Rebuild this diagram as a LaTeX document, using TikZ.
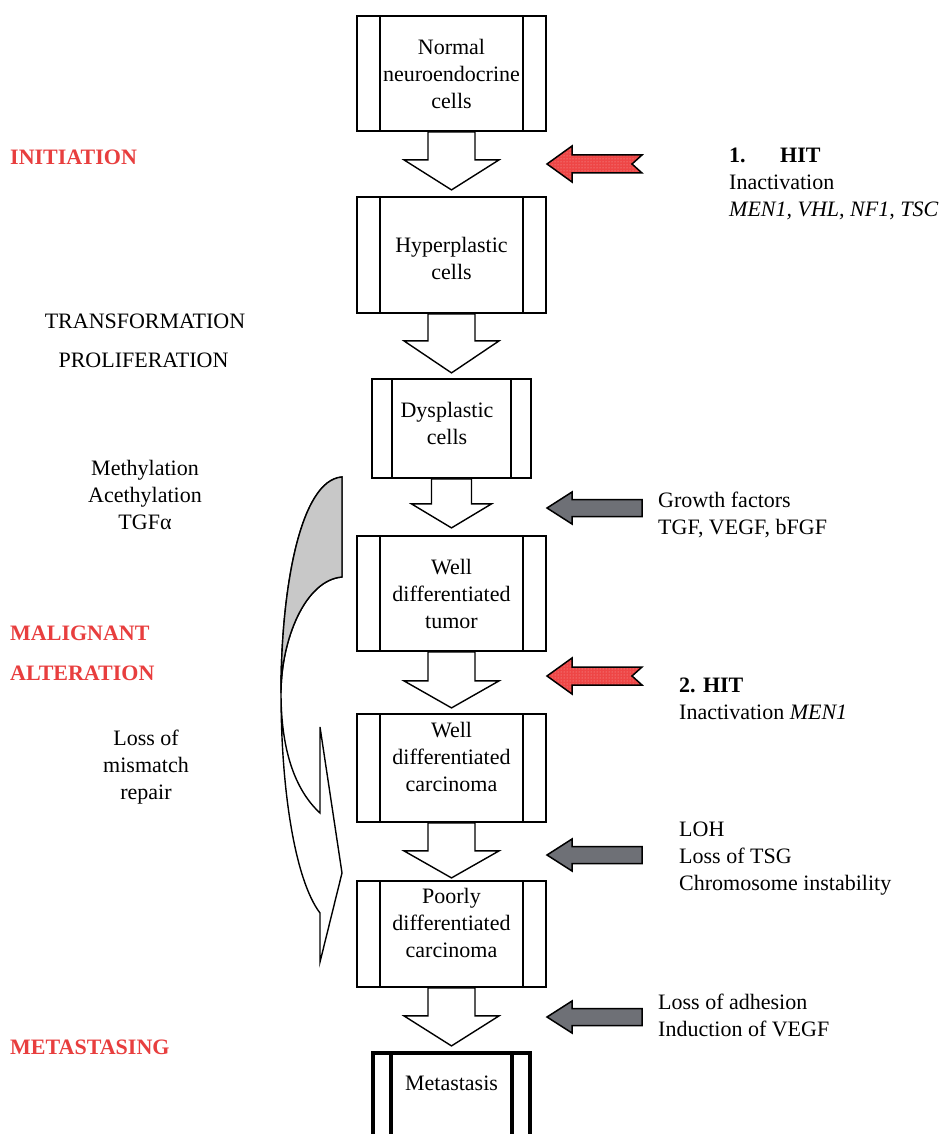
\documentclass[tikz,border=0pt]{standalone}
\usepackage{fontspec}
\setmainfont{Liberation Serif}
\usetikzlibrary{calc,patterns,positioning}

\definecolor{stagered}{RGB}{232,62,62}
\definecolor{hitred}{RGB}{238,70,70}
\definecolor{factgrey}{RGB}{110,112,118}
\definecolor{bandgrey}{RGB}{200,200,200}

\tikzset{
  cellbox/.style={draw, line width=1.8pt, inner sep=0pt,
    path picture={
      \draw ([xshift=#1]path picture bounding box.north west) -- ([xshift=#1]path picture bounding box.south west);
      \draw ([xshift=-#1]path picture bounding box.north east) -- ([xshift=-#1]path picture bounding box.south east);
    }},
  cellbox/.default=23pt,
  celltext/.style={align=center, inner sep=0pt, font=\fontsize{22}{27}\selectfont},
  lefttext/.style={align=center, inner sep=0pt, font=\fontsize{22}{27}\selectfont},
  sidetext/.style={align=left, anchor=west, inner sep=0pt, font=\fontsize{22}{27}\selectfont},
  stagetext/.style={anchor=west, inner sep=0pt, text=stagered, font=\fontsize{22}{27}\selectfont\bfseries},
  pics/downarrow/.style n args={4}{code={
    \draw[line width=1.4pt, fill=white, line join=miter]
      (-#1,0) -- (-#1,#3) -- (-#2,#3) -- (0,{#3+#4}) -- (#2,#3) -- (#1,#3) -- (#1,0) -- cycle;
  }},
  pics/hitarrow/.style={code={
    \draw[line width=1.5pt, line join=miter, preaction={fill=hitred}, pattern=dots, pattern color=white!55!hitred]
      (0,0) -- (25,-18) -- (25,-9) -- (95,-9) -- (85,0) -- (95,9) -- (25,9) -- (25,18) -- cycle;
  }},
  pics/factarrow/.style={code={
    \draw[line width=1.5pt, fill=factgrey, line join=miter]
      (0,0) -- (25,-16) -- (25,-8.5) -- (95,-8.5) -- (95,8.5) -- (25,8.5) -- (25,16) -- cycle;
  }},
}

\begin{document}
\begin{tikzpicture}[x=1pt,y=-1pt]
  \clip (0,0) rectangle (945,1134);
  \fill[white] (0,0) rectangle (945,1134);

  % stages of the tumour
  \node[cellbox, minimum width=189pt, minimum height=115pt] (normal) at (451.5,73.5) {};
  \node[cellbox, minimum width=189pt, minimum height=116pt] (hyper) at (451.5,255) {};
  \node[cellbox=20pt, minimum width=159pt, minimum height=99pt] (dysp) at (451.5,428.5) {};
  \node[cellbox, minimum width=189pt, minimum height=115pt] (tumor) at (451.5,593.5) {};
  \node[cellbox, minimum width=189pt, minimum height=108pt] (wdcarc) at (451.5,768) {};
  \node[cellbox, minimum width=189pt, minimum height=106pt] (pdcarc) at (451.5,934) {};
  \node[cellbox=18pt, line width=3.5pt, minimum width=157pt, minimum height=110pt] (meta) at (451.5,1108) {};

  \node[celltext] (normaltxt) at (normal.center) {Normal\\neuroendocrine\\cells};
  \node[celltext] (hypertxt) at ([yshift=-3.5pt]hyper.center) {Hyperplastic\\cells};
  \node[celltext] (dysptxt) at ([xshift=-4.5pt,yshift=5pt]dysp.center) {Dysplastic\\cells};
  \node[celltext] (tumortxt) at (tumor.center) {Well\\differentiated\\tumor};
  \node[celltext] (wdcarctxt) at ([yshift=11pt]wdcarc.center) {Well\\differentiated\\carcinoma};
  \node[celltext] (pdcarctxt) at ([yshift=11pt]pdcarc.center) {Poorly\\differentiated\\carcinoma};
  \node[celltext] (metatxt) at ([yshift=-32pt]meta.north) {Metastasis};

  % block arrows between stages
  \pic at (normal.south) {downarrow={23.5}{47.5}{28}{30}};
  \pic at (hyper.south) {downarrow={23.5}{47.5}{27}{32}};
  \pic at (dysp.south) {downarrow={20}{40}{25}{24}};
  \pic at (tumor.south) {downarrow={23.5}{47.5}{29}{27}};
  \pic at (wdcarc.south) {downarrow={23.5}{47.5}{28}{27}};
  \pic at (pdcarc.south) {downarrow={23.5}{47.5}{28}{30}};

  % hits and factors
  \coordinate (hit1) at (547,164);
  \coordinate (fact1) at (547,508);
  \coordinate (hit2) at (547,676);
  \coordinate (fact2) at (547,855);
  \coordinate (fact3) at (547,1017);
  \pic at (hit1) {hitarrow};
  \pic at (fact1) {factarrow};
  \pic at (hit2) {hitarrow};
  \pic at (fact2) {factarrow};
  \pic at (fact3) {factarrow};

  \node[sidetext] (hit1txt) at (729,183.5) {\makebox[51pt][l]{\textbf{1.}}\textbf{HIT}\\Inactivation\\\textit{MEN1, VHL, NF1, TSC}};
  \node[sidetext] (fact1txt) at (658,514.5) {Growth factors\\TGF, VEGF, bFGF};
  \node[sidetext] (hit2txt) at (679,699) {\textbf{2. HIT}\\Inactivation \textit{MEN1}};
  \node[sidetext] (fact2txt) at (679,859) {LOH\\Loss of TSG\\Chromosome instability};
  \node[sidetext] (fact3txt) at (658,1015.5) {Loss of adhesion\\Induction of VEGF};

  % left column
  \node[stagetext] (init) at (10,157) {INITIATION};
  \node[lefttext] (transf) at (145,321) {TRANSFORMATION};
  \node[lefttext] (prolif) at (143.5,360) {PROLIFERATION};
  \node[lefttext] (methyl) at (145,495) {Methylation\\Acethylation\\TGFα};
  \node[stagetext] (malig) at (10,633) {MALIGNANT};
  \node[stagetext] (alter) at (10,673) {ALTERATION};
  \node[lefttext] (mismatch) at (146,767) {Loss of\\mismatch\\repair};
  \node[stagetext] (metast) at (10,1047) {METASTASING};

  % curved band arrow
  \draw[line width=1.4pt, fill=white, line join=miter]
    (342,577) .. controls (305,580) and (281,640) .. (281,693)
    .. controls (281,750) and (295,790) .. (320,813) -- (320,727) -- (342,873) -- (320,962) -- (320,913)
    .. controls (295,880) and (281,790) .. (281,693)
    .. controls (281,590) and (300,480) .. (342,477) -- cycle;
  \draw[line width=1.4pt, fill=bandgrey]
    (342,477) .. controls (300,480) and (281,590) .. (281,693)
    .. controls (281,640) and (305,580) .. (342,577) -- cycle;
\end{tikzpicture}
\end{document}
